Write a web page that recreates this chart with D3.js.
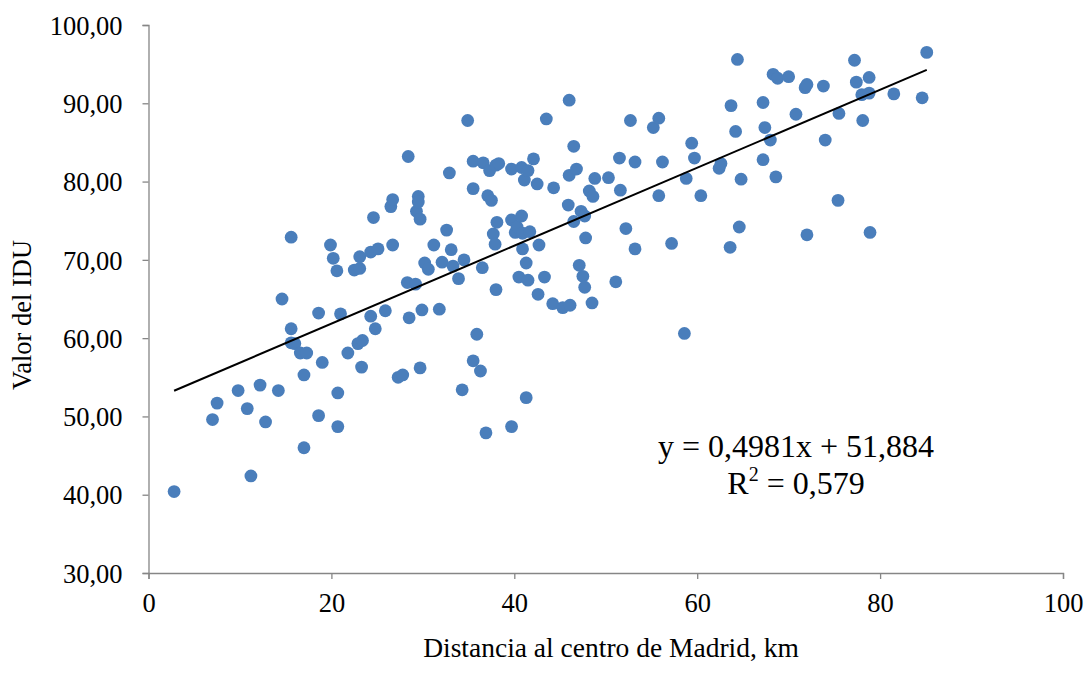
<!DOCTYPE html>
<html><head><meta charset="utf-8">
<script src="https://cdn.jsdelivr.net/npm/d3@7"></script>
<style>
html,body{margin:0;padding:0;background:#fff;}
svg{display:block;}
text{font-family:"Liberation Serif","Times New Roman",serif;fill:#000;}
</style></head>
<body><svg id="c" width="1084" height="687"></svg>
<script>
const distKm = [2.8,7.0,7.5,9.8,10.8,11.2,12.2,12.8,14.2,14.6,15.6,15.6,15.6,16.0,16.6,17.3,17.0,17.0,18.6,18.6,19.0,19.9,20.2,20.6,20.7,20.7,21.0,21.8,22.5,22.9,23.1,23.1,23.4,23.3,24.3,25.1,24.3,24.8,24.6,25.9,26.5,26.7,26.7,27.3,27.8,28.3,29.2,28.4,28.5,29.3,29.5,29.5,29.7,29.7,29.9,30.2,30.6,31.2,31.8,32.1,32.6,32.9,33.1,33.3,33.9,34.3,34.5,34.9,35.5,35.5,35.5,35.9,36.3,36.5,36.6,36.9,37.1,37.3,37.5,37.7,37.9,38.0,38.3,38.0,38.1,39.7,39.7,39.7,40.1,40.3,40.5,40.8,40.8,40.9,40.9,41.1,41.3,41.3,41.5,41.5,41.7,42.1,42.5,42.6,42.7,43.3,43.5,44.2,44.3,45.3,45.9,46.0,46.0,46.1,46.5,46.5,46.8,47.1,47.3,47.5,47.7,47.7,47.8,48.2,48.5,48.6,48.8,50.3,51.1,51.5,51.6,52.2,52.7,53.2,53.2,55.2,55.8,55.8,56.2,57.2,58.6,58.8,59.4,59.7,60.4,62.4,62.6,63.6,63.7,64.2,64.4,64.6,64.8,67.2,67.2,67.4,68.0,68.3,68.6,68.8,70.0,70.8,71.8,72.0,72.0,73.8,74.0,75.4,75.5,77.2,77.4,78.0,78.1,78.8,78.8,78.9,81.5,84.6,85.1];
const idu = [40.4,49.6,51.7,53.3,51.0,42.4,54.0,49.3,53.3,65.0,72.9,61.2,59.4,59.3,58.1,58.1,55.3,46.0,63.2,50.1,56.9,71.9,70.2,68.6,53.0,48.7,63.1,58.1,68.7,59.3,68.9,70.4,59.7,56.3,71.0,71.4,62.8,61.2,75.4,63.5,76.8,77.7,71.9,55.0,55.3,67.1,66.9,83.2,62.6,76.2,78.1,77.4,75.2,56.2,63.6,69.6,68.8,71.9,63.7,69.7,73.8,81.1,71.3,69.2,67.6,53.4,70.0,87.8,82.6,79.1,57.1,60.5,55.8,69.0,82.4,47.9,78.2,81.4,77.6,73.3,72.0,82.1,82.3,66.2,74.8,81.6,75.1,48.7,73.5,74.2,67.8,75.6,81.8,73.4,71.4,80.2,69.6,52.4,81.4,67.4,73.6,82.9,79.7,65.6,71.9,67.8,88.0,64.4,79.2,63.9,77.0,90.4,80.8,64.2,84.5,74.9,81.6,69.3,76.2,67.9,75.6,66.5,72.8,78.8,64.5,78.1,80.4,80.5,67.2,83.0,78.9,74.0,87.8,82.5,71.4,86.9,88.1,78.2,82.5,72.1,60.6,80.4,84.9,83.0,78.2,81.7,82.3,71.6,89.7,86.4,95.6,74.2,80.3,90.1,82.8,86.9,85.3,93.7,80.6,93.2,93.4,88.6,92.0,92.4,73.2,92.2,85.3,77.6,88.7,95.5,92.7,91.1,87.8,93.3,91.3,73.5,91.2,90.7,96.5];
const xTicks = [0,20,40,60,80,100];
const yTicks = [30,40,50,60,70,80,90,100];
const slope = 0.4981, intercept = 51.884;
const eqText = "y = 0,4981x + 51,884";
const r2Value = "0,579";
const xTitle = "Distancia al centro de Madrid, km";
const yTitle = "Valor del IDU";

const svg = d3.select("#c");
const x = d3.scaleLinear().domain([0,100]).range([148.5,1063]);
const y = d3.scaleLinear().domain([30,100]).range([573,25]);
const axisColor = "#868686";

const gx = svg.append("g").attr("transform",`translate(0,${y(30)})`)
  .call(d3.axisBottom(x).tickValues(xTicks).tickSizeOuter(0).tickSize(6).tickPadding(14).tickFormat(d=>String(d)));
const gy = svg.append("g").attr("transform",`translate(${x(0)},0)`)
  .call(d3.axisLeft(y).tickValues(yTicks).tickSizeOuter(0).tickSize(6).tickPadding(20).tickFormat(d=>d.toFixed(2).replace(".",",")));
[gx,gy].forEach(g=>{
  g.select(".domain").attr("stroke",axisColor).attr("stroke-width",1.3);
  g.selectAll(".tick line").attr("stroke",axisColor).attr("stroke-width",1.3);
  g.selectAll(".tick text").attr("font-family","Liberation Serif").attr("font-size",26.5).attr("fill","#000");
});
gy.selectAll(".tick text").attr("dy","0.35em");

const pts = distKm.map((d,i)=>({x:d,y:idu[i]}));
svg.append("g").selectAll("circle").data(pts).join("circle")
  .attr("cx",d=>x(d.x)).attr("cy",d=>y(d.y)).attr("r",6.4)
  .attr("fill","#4a7ebb");

const x0 = d3.min(distKm), x1 = d3.max(distKm);
svg.append("line")
  .attr("x1",x(x0)).attr("y1",y(slope*x0+intercept))
  .attr("x2",x(x1)).attr("y2",y(slope*x1+intercept))
  .attr("stroke","#000").attr("stroke-width",2);

svg.append("text").attr("x",796).attr("y",457).attr("text-anchor","middle")
  .attr("font-size",32).text(eqText);
const r2 = svg.append("text").attr("x",796).attr("y",494).attr("text-anchor","middle").attr("font-size",32);
r2.append("tspan").text("R");
r2.append("tspan").attr("font-size",20).attr("dy",-13).text("2");
r2.append("tspan").attr("dy",13).text(" = " + r2Value);

svg.append("text").attr("x",611).attr("y",657).attr("text-anchor","middle")
  .attr("font-size",27.5).text(xTitle);
svg.append("text").attr("transform","translate(31,315) rotate(-90)").attr("text-anchor","middle")
  .attr("font-size",26.5).text(yTitle);
</script></body></html>
